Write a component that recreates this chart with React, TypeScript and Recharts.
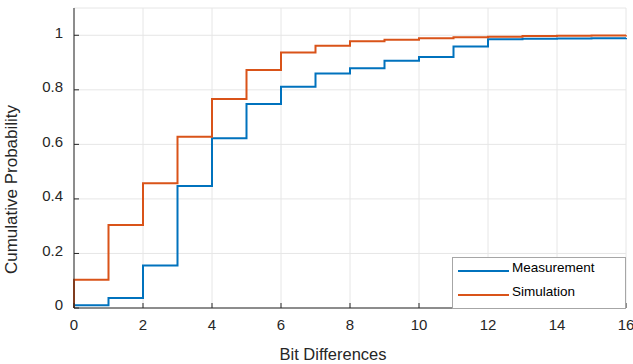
import React from "react";
import { LineChart, Line, XAxis, YAxis, CartesianGrid, Label } from "recharts";

const bitDiffs = [0, 0, 1, 2, 3, 4, 5, 6, 7, 8, 9, 10, 11, 12, 13, 14, 15, 16];
const measurement = [0, 0.01, 0.037, 0.156, 0.447, 0.622, 0.748, 0.811, 0.86, 0.879, 0.907, 0.92, 0.959, 0.985, 0.987, 0.988, 0.989, 0.99];
const simulation = [0, 0.104, 0.304, 0.457, 0.628, 0.766, 0.873, 0.937, 0.962, 0.978, 0.984, 0.989, 0.993, 0.995, 0.997, 0.998, 0.999, 1.0];
const xTicks = [0, 2, 4, 6, 8, 10, 12, 14, 16];
const yTicks = [0, 0.2, 0.4, 0.6, 0.8, 1];
const seriesNames = ["Measurement", "Simulation"];

const data = bitDiffs.map((x, i) => ({ x, m: measurement[i], s: simulation[i] }));

const FONT = "'Liberation Sans', Arial, Helvetica, sans-serif";
const AX = "#262626";
const BLUE = "#0072BD";
const ORANGE = "#D95319";

const YTick = (props: any) => {
  const { x, y, payload } = props;
  return (
    <text x={x} y={y - 3} dy="0.355em" textAnchor="end" fill={AX} fontSize={15} fontFamily={FONT}>
      {String(payload.value)}
    </text>
  );
};

export default function App() {
  return (
    <div style={{ position: "absolute", left: 0, top: 0, width: 633, height: 364, background: "#fff" }}>
      <LineChart
        width={633}
        height={364}
        data={data}
        margin={{ top: 8, right: 7, bottom: 6, left: 14 }}
      >
        <CartesianGrid stroke="#e6e6e6" strokeWidth={1} />
        <XAxis
          dataKey="x"
          type="number"
          domain={[0, 16]}
          ticks={xTicks}
          height={50}
          tickSize={-5}
          tickMargin={16}
          stroke={AX}
          axisLine={{ stroke: AX }}
          tickLine={{ stroke: AX }}
          tick={{ fill: AX, fontSize: 15, fontFamily: FONT }}
          interval={0}
        >
          <Label
            content={() => (
              <text x={333} y={360} textAnchor="middle" fill={AX} fontSize={16.5} fontFamily={FONT}>
                Bit Differences
              </text>
            )}
          />
        </XAxis>
        <XAxis
          xAxisId="top"
          orientation="top"
          dataKey="x"
          type="number"
          domain={[0, 16]}
          ticks={xTicks}
          height={0}
          tickSize={-5}
          tick={false}
          axisLine={{ stroke: AX }}
          tickLine={{ stroke: AX }}
          interval={0}
        />
        <YAxis
          type="number"
          domain={[0, 1.1]}
          ticks={yTicks}
          width={60}
          tickSize={-5}
          tickMargin={16}
          axisLine={{ stroke: AX }}
          tickLine={{ stroke: AX }}
          tick={<YTick />}
          interval={0}
        >
          <Label
            content={() => (
              <text
                x={17}
                y={189.5}
                transform="rotate(-90 17 189.5)"
                textAnchor="middle"
                fill={AX}
                fontSize={17}
                fontFamily={FONT}
              >
                Cumulative Probability
              </text>
            )}
          />
        </YAxis>
        <YAxis
          yAxisId="right"
          orientation="right"
          type="number"
          domain={[0, 1.1]}
          ticks={yTicks}
          width={0}
          tickSize={-5}
          tick={false}
          axisLine={{ stroke: AX }}
          tickLine={{ stroke: AX }}
          interval={0}
        />
        <Line
          type="stepAfter"
          dataKey="m"
          name={seriesNames[0]}
          stroke={BLUE}
          strokeWidth={2}
          dot={false}
          isAnimationActive={false}
        />
        <Line
          type="stepAfter"
          dataKey="s"
          name={seriesNames[1]}
          stroke={ORANGE}
          strokeWidth={2}
          dot={false}
          isAnimationActive={false}
        />
      </LineChart>
      <svg
        width={633}
        height={364}
        style={{ position: "absolute", left: 0, top: 0, pointerEvents: "none" }}
      >
        <rect x={452.5} y={257.5} width={173} height={51} fill="#fff" stroke="#a6a6a6" strokeWidth={1} />
        <line x1={458} x2={509} y1={271} y2={271} stroke={BLUE} strokeWidth={2} />
        <text x={512} y={272} fill="#000" fontSize={13.5} fontFamily={FONT}>
          {seriesNames[0]}
        </text>
        <line x1={458} x2={509} y1={295} y2={295} stroke={ORANGE} strokeWidth={2} />
        <text x={512} y={296} fill="#000" fontSize={13.5} fontFamily={FONT}>
          {seriesNames[1]}
        </text>
      </svg>
    </div>
  );
}
